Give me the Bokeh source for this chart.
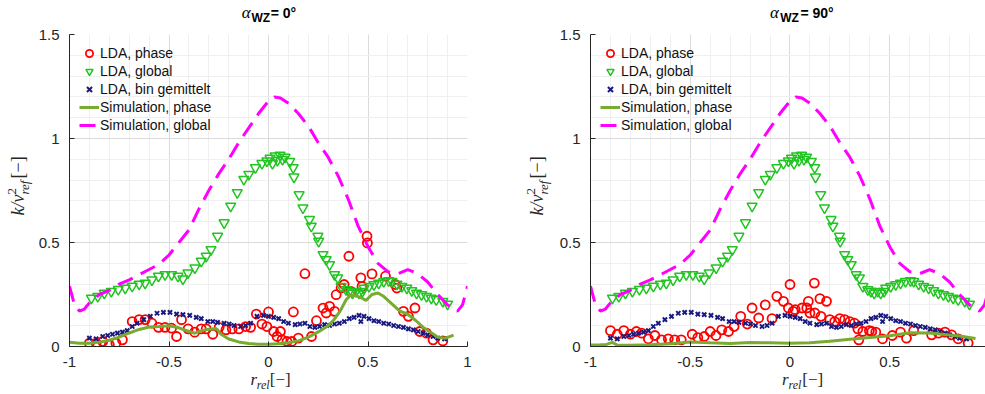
import numpy as np
from bokeh.plotting import figure
from bokeh.models import FixedTicker, Legend, LegendItem, Range1d
from bokeh.core.properties import value
from bokeh.layouts import row, column
from bokeh.embed import file_html
from bokeh.resources import INLINE

# ---------------- data ----------------
panel_angles = ["0°", "90°"]

x_ticks = [-1, -0.5, 0, 0.5, 1]
x_tick_labels = ["-1", "-0.5", "0", "0.5", "1"]
y_ticks = [0, 0.5, 1, 1.5]
y_tick_labels = ["0", "0.5", "1", "1.5"]

# Simulation, global (same in both panels)
sim_global_x = [-1.0, -0.975, -0.95, -0.925, -0.9, -0.85, -0.8, -0.75, -0.7, -0.65, -0.6,
                -0.55, -0.5, -0.45, -0.4, -0.35, -0.3, -0.25, -0.2, -0.15, -0.1, -0.05,
                0.0, 0.03, 0.06, 0.1, 0.15, 0.2, 0.25, 0.3, 0.35, 0.4, 0.45, 0.5, 0.55,
                0.6, 0.65, 0.7, 0.75, 0.8, 0.85, 0.9, 0.95, 0.975, 1.0]
sim_global_y = [0.29, 0.20, 0.17, 0.18, 0.21, 0.25, 0.27, 0.30, 0.32, 0.345, 0.37,
                0.395, 0.44, 0.50, 0.56, 0.66, 0.75, 0.83, 0.90, 0.98, 1.05, 1.12,
                1.18, 1.20, 1.195, 1.17, 1.12, 1.06, 0.98, 0.91, 0.82, 0.71, 0.58, 0.48, 0.40,
                0.36, 0.35, 0.37, 0.35, 0.31, 0.25, 0.20, 0.17, 0.20, 0.29]

# LDA, global (same in both panels)
lda_global_x = [-0.89, -0.858, -0.825, -0.79, -0.755, -0.72, -0.685, -0.65, -0.62, -0.586,
                -0.553, -0.52, -0.487, -0.455, -0.43, -0.405, -0.37, -0.338, -0.313, -0.289,
                -0.256, -0.223, -0.19, -0.157, -0.124, -0.099, -0.066, -0.033, -0.008, 0.008,
                0.02, 0.033, 0.045, 0.058, 0.07, 0.083, 0.107, 0.124, 0.128, 0.154, 0.173,
                0.206, 0.215, 0.248, 0.252, 0.274, 0.29, 0.307, 0.332, 0.348, 0.365, 0.39,
                0.406, 0.422, 0.439, 0.455, 0.472, 0.48, 0.505, 0.53, 0.554, 0.579, 0.604,
                0.62, 0.645, 0.67, 0.695, 0.72, 0.744, 0.769, 0.794, 0.818, 0.843, 0.876, 0.90]
lda_global_y = [0.233, 0.241, 0.257, 0.265, 0.275, 0.281, 0.29, 0.30, 0.305, 0.32,
                0.338, 0.346, 0.346, 0.338, 0.325, 0.354, 0.378, 0.41, 0.434, 0.466,
                0.53, 0.595, 0.675, 0.74, 0.804, 0.828, 0.86, 0.88, 0.892, 0.905,
                0.88, 0.917, 0.895, 0.92, 0.90, 0.91, 0.89, 0.86, 0.815, 0.73, 0.667,
                0.611, 0.579, 0.53, 0.506, 0.442, 0.418, 0.394, 0.346, 0.33, 0.289, 0.273,
                0.265, 0.257, 0.265, 0.257, 0.265, 0.281, 0.289, 0.298, 0.305, 0.313, 0.317,
                0.313, 0.30, 0.289, 0.281, 0.269, 0.257, 0.249, 0.241, 0.233, 0.225, 0.217, 0.204]

# LDA, bin gemittelt (same in both panels)
lda_bin_x = [-0.90, -0.866, -0.833, -0.808, -0.784, -0.759, -0.734, -0.71, -0.685, -0.66,
             -0.627, -0.594, -0.56, -0.528, -0.495, -0.462, -0.43, -0.396, -0.363, -0.338,
             -0.305, -0.28, -0.256, -0.223, -0.198, -0.173, -0.14, -0.115, -0.09, -0.058,
             -0.025, 0.0, 0.026, 0.051, 0.076, 0.10, 0.134, 0.158, 0.183, 0.208, 0.233,
             0.257, 0.282, 0.307, 0.332, 0.356, 0.381, 0.406, 0.43, 0.455, 0.464, 0.48,
             0.505, 0.53, 0.554, 0.579, 0.604, 0.629, 0.653, 0.678, 0.703, 0.728, 0.752,
             0.777, 0.80, 0.827, 0.85, 0.885]
lda_bin_y = [0.04, 0.037, 0.048, 0.053, 0.059, 0.064, 0.069, 0.076, 0.096, 0.112,
             0.129, 0.145, 0.16, 0.164, 0.164, 0.156, 0.153, 0.15, 0.14, 0.134,
             0.12, 0.12, 0.116, 0.112, 0.108, 0.101, 0.096, 0.101, 0.112, 0.145,
             0.15, 0.145, 0.14, 0.134, 0.12, 0.112, 0.105, 0.108, 0.112, 0.096, 0.092,
             0.096, 0.105, 0.101, 0.108, 0.112, 0.12, 0.134, 0.14, 0.15, 0.12, 0.145,
             0.134, 0.124, 0.12, 0.112, 0.108, 0.101, 0.096, 0.092, 0.085, 0.08, 0.072,
             0.064, 0.056, 0.048, 0.04, 0.037]

# LDA, phase  (alpha_WZ = 0°)
phase0_x = [-0.90, -0.866, -0.833, -0.80, -0.767, -0.734, -0.685, -0.65, -0.62, -0.586,
            -0.553, -0.52, -0.487, -0.462, -0.437, -0.404, -0.371, -0.338, -0.313, -0.28,
            -0.248, -0.214, -0.182, -0.149, -0.115, -0.09, -0.061, -0.033, -0.008, 0.0,
            0.026, 0.043, 0.06, 0.068, 0.093, 0.117, 0.125, 0.15, 0.183, 0.216, 0.241,
            0.274, 0.29, 0.307, 0.332, 0.34, 0.365, 0.38, 0.404, 0.414, 0.464, 0.47,
            0.497, 0.495, 0.52, 0.588, 0.637, 0.645, 0.678, 0.703, 0.736, 0.76, 0.794,
            0.827, 0.876]
phase0_y = [0.016, 0.016, 0.024, 0.008, 0.016, 0.032, 0.12, 0.129, 0.129, 0.112,
            0.092, 0.092, 0.088, 0.048, 0.129, 0.085, 0.069, 0.085, 0.085, 0.059,
            0.092, 0.08, 0.085, 0.085, 0.096, 0.092, 0.156, 0.108, 0.096, 0.166,
            0.072, 0.048, 0.072, 0.032, 0.024, 0.024, 0.166, 0.04, 0.35, 0.048, 0.124,
            0.185, 0.161, 0.193, 0.169, 0.249, 0.281, 0.298, 0.434, 0.265, 0.33, 0.289,
            0.498, 0.53, 0.349, 0.338, 0.298, 0.281, 0.169, 0.145, 0.185, 0.072, 0.064,
            0.032, 0.027]

# Simulation, phase  (alpha_WZ = 0°)
sim0_x = [-1.0, -0.95, -0.9, -0.85, -0.8, -0.75, -0.7, -0.65, -0.6, -0.55, -0.5, -0.45,
          -0.4, -0.37, -0.34, -0.3, -0.26, -0.24, -0.2, -0.15, -0.1, -0.05, 0.0, 0.05,
          0.1, 0.15, 0.2, 0.25, 0.3, 0.33, 0.36, 0.39, 0.41, 0.44, 0.47, 0.49, 0.52,
          0.55, 0.58, 0.62, 0.66, 0.7, 0.74, 0.78, 0.82, 0.85, 0.89, 0.93]
sim0_y = [0.02, 0.016, 0.016, 0.021, 0.03, 0.045, 0.065, 0.082, 0.094, 0.096, 0.10, 0.09,
          0.072, 0.064, 0.075, 0.083, 0.085, 0.06, 0.036, 0.022, 0.014, 0.011, 0.011, 0.013,
          0.018, 0.027, 0.045, 0.07, 0.10, 0.13, 0.17, 0.225, 0.245, 0.245, 0.232, 0.222, 0.25,
          0.257, 0.24, 0.205, 0.17, 0.155, 0.125, 0.09, 0.065, 0.045, 0.04, 0.055]

# LDA, phase  (alpha_WZ = 90°)
phase90_x = [-0.90, -0.866, -0.833, -0.80, -0.77, -0.743, -0.71, -0.677, -0.644, -0.61,
             -0.578, -0.545, -0.49, -0.462, -0.43, -0.40, -0.371, -0.342, -0.308, -0.28,
             -0.247, -0.214, -0.19, -0.157, -0.124, -0.09, -0.066, -0.033, -0.008, 0.0,
             0.016, 0.026, 0.06, 0.084, 0.092, 0.10, 0.122, 0.125, 0.15, 0.155, 0.183,
             0.20, 0.224, 0.25, 0.274, 0.30, 0.323, 0.345, 0.34, 0.365, 0.398, 0.41,
             0.43, 0.464, 0.513, 0.554, 0.584, 0.62, 0.71, 0.744, 0.777, 0.81, 0.843, 0.893]
phase90_y = [0.076, 0.059, 0.076, 0.059, 0.072, 0.064, 0.037, 0.053, 0.032, 0.037,
             0.032, 0.032, 0.059, 0.043, 0.048, 0.072, 0.053, 0.08, 0.072, 0.096,
             0.145, 0.108, 0.185, 0.137, 0.20, 0.134, 0.241, 0.217, 0.185, 0.298,
             0.169, 0.177, 0.185, 0.185, 0.217, 0.161, 0.305, 0.161, 0.23, 0.145, 0.217,
             0.129, 0.12, 0.134, 0.129, 0.12, 0.112, 0.032, 0.085, 0.072, 0.076, 0.072,
             0.069, 0.037, 0.053, 0.069, 0.04, 0.076, 0.056, 0.064, 0.069, 0.056, 0.037, 0.016]

# Simulation, phase  (alpha_WZ = 90°)
sim90_x = [-1.0, -0.95, -0.92, -0.89, -0.865, -0.8, -0.7, -0.6, -0.5, -0.4, -0.3, -0.2,
           -0.1, 0.0, 0.1, 0.2, 0.3, 0.4, 0.5, 0.6, 0.7, 0.8, 0.85, 0.93]
sim90_y = [0.007, 0.008, 0.01, 0.02, 0.006, 0.006, 0.008, 0.013, 0.022, 0.018, 0.015, 0.019,
           0.018, 0.016, 0.018, 0.025, 0.035, 0.043, 0.052, 0.066, 0.065, 0.055, 0.05, 0.038]

# ---------------- styling ----------------
AX = "#262626"
SANS = "Liberation Sans"
SERIF = "Liberation Serif"
C_PHASE = "#FF0000"
C_GLOBAL = "#22C422"
C_BIN = "#1A1A80"
C_SIMP = "#77AC30"
C_SIMG = "#FF00FF"

minor_x = [round(v, 2) for v in np.arange(-1.0, 1.001, 0.1)]
minor_y = [round(v, 2) for v in np.arange(0.0, 1.501, 0.1)]

TITLE_H = 24
MAIN_TOP = 10
FRAME_H = 312
MAIN_BOTTOM = 24
XLAB_H = 394 - TITLE_H - MAIN_TOP - FRAME_H - MAIN_BOTTOM   # 24
MID = 0.34   # distance from the alphabetic baseline to the text middle, in em


def text_fig(w, h):
    """A blank figure whose data units are its own pixels (for composite labels)."""
    f = figure(width=w, height=h, x_range=Range1d(0, w), y_range=Range1d(0, h),
               x_axis_type=None, y_axis_type=None, min_border=0, title_location=None,
               toolbar_location=None, output_backend="svg")
    f.outline_line_color = None
    f.background_fill_color = "white"
    f.border_fill_color = "white"
    return f


def lab(f, text, x, y, size, style="normal", rotated=False, font=SERIF, color=AX):
    """(x, y) is the alphabetic baseline start; the text is anchored at its middle."""
    if rotated:
        x, y, angle = x - MID * size, y, np.pi / 2
    else:
        x, y, angle = x, y + MID * size, 0.0
    f.text(x=[x], y=[y], text=[text], angle=angle, text_font=value(font),
           text_font_size=value(f"{size}px"), text_font_style=value(style),
           text_color=color, text_baseline="middle", text_align="left")


def main_fig(ph_x, ph_y, sp_x, sp_y, width, mb_left, mb_right, x_end):
    p = figure(width=width, height=MAIN_TOP + FRAME_H + MAIN_BOTTOM,
               output_backend="svg", toolbar_location=None, title_location=None,
               x_range=Range1d(-1, x_end), y_range=Range1d(0, 1.5),
               min_border_left=mb_left, min_border_right=mb_right,
               min_border_top=MAIN_TOP, min_border_bottom=MAIN_BOTTOM)
    p.outline_line_color = None
    p.background_fill_color = "white"
    p.border_fill_color = "white"

    p.xaxis.ticker = FixedTicker(ticks=x_ticks, minor_ticks=minor_x)
    p.yaxis.ticker = FixedTicker(ticks=y_ticks, minor_ticks=minor_y)
    p.xaxis.major_label_overrides = {t: l for t, l in zip(x_ticks, x_tick_labels)}
    p.yaxis.major_label_overrides = {t: l for t, l in zip(y_ticks, y_tick_labels)}
    for ax in (p.xaxis, p.yaxis):
        ax.axis_line_color = AX
        ax.major_tick_line_color = AX
        ax.major_tick_in = 5
        ax.major_tick_out = 0
        ax.minor_tick_line_color = None
        ax.major_label_text_font = SANS
        ax.major_label_text_font_size = "15px"
        ax.major_label_text_color = AX
    p.xaxis.major_label_standoff = 6
    p.yaxis.major_label_standoff = 6

    for g in (p.xgrid, p.ygrid):
        g.grid_line_color = "#DADADA"
        g.minor_grid_line_color = "#EFEFEF"

    r1 = p.scatter(ph_x, ph_y, marker="circle", size=9, fill_color=None,
                   line_color=C_PHASE, line_width=1.8)
    r2 = p.scatter(lda_global_x, lda_global_y, marker="inverted_triangle", size=10,
                   fill_color=None, line_color=C_GLOBAL, line_width=1.5)
    r3 = p.scatter(lda_bin_x, lda_bin_y, marker="x", size=6, line_color=C_BIN, line_width=2)
    r4 = p.line(sp_x, sp_y, line_color=C_SIMP, line_width=3)
    r5 = p.line(sim_global_x, sim_global_y, line_color=C_SIMG, line_width=3, line_dash="16 9")

    legend = Legend(items=[LegendItem(label="LDA, phase", renderers=[r1]),
                           LegendItem(label="LDA, global", renderers=[r2]),
                           LegendItem(label="LDA, bin gemittelt", renderers=[r3]),
                           LegendItem(label="Simulation, phase", renderers=[r4]),
                           LegendItem(label="Simulation, global", renderers=[r5])],
                    location="top_left")
    legend.background_fill_alpha = 0
    legend.border_line_color = None
    legend.label_text_font = SANS
    legend.label_text_font_size = "14px"
    legend.label_text_color = "#111111"
    legend.glyph_width = 20
    legend.glyph_height = 18
    legend.label_height = 18
    legend.label_standoff = 1
    legend.spacing = 0
    legend.padding = 3
    legend.margin = 10
    p.add_layout(legend)
    return p


def panel(angle_txt, ph_x, ph_y, sp_x, sp_y, ylab_w, col_w, mb_left, mb_right, x_end, base_x):
    # y label  k / v^2_ref [-]   (rotated, reading upward)
    yl = text_fig(ylab_w, 394)
    y0 = 179
    lab(yl, "k/v", base_x, y0, 18, "italic", rotated=True)
    lab(yl, "2", base_x - 8, y0 + 21, 13, rotated=True)
    lab(yl, "ref", base_x + 4, y0 + 21, 13, "italic", rotated=True)
    lab(yl, "[−]", base_x, y0 + 37, 18, rotated=True)

    # title  alpha_WZ = ..°
    tt = text_fig(col_w, TITLE_H)
    sh = mb_left - 3 * (len(angle_txt) - 2)
    lab(tt, "α", 169 + sh, 6, 17, "italic", color="#000000")
    lab(tt, "WZ", 180 + sh, 2, 12, "bold", font=SANS, color="#000000")
    lab(tt, "= " + angle_txt, 202 + sh, 7, 14, "bold", font=SANS, color="#000000")

    p = main_fig(ph_x, ph_y, sp_x, sp_y, col_w, mb_left, mb_right, x_end)

    # x label  r_rel [-]
    xl = text_fig(col_w, XLAB_H)
    lab(xl, "r", 179 + mb_left, 9, 17, "italic")
    lab(xl, "rel", 186 + mb_left, 5, 12, "italic")
    lab(xl, "[−]", 201 + mb_left, 9, 17)

    return row(yl, column(tt, p, xl))


left = panel(panel_angles[0], phase0_x, phase0_y, sim0_x, sim0_y,
             35, 455, 28, 23, 1.0, 24)
right = panel(panel_angles[1], phase90_x, phase90_y, sim90_x, sim90_y,
              66, 429, 29, 0, 0.98, 53)

layout = row(left, right)
open("out.html", "w").write(file_html(layout, INLINE))
